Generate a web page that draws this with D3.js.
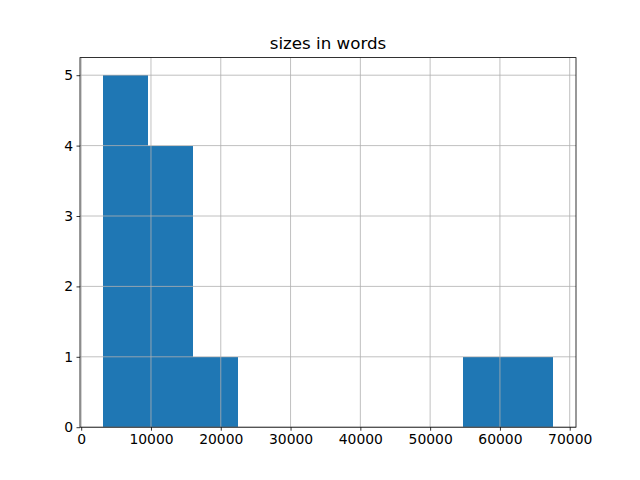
<!DOCTYPE html>
<html>
<head>
<meta charset="utf-8">
<script src="https://cdn.jsdelivr.net/npm/d3@7"></script>
<style>
  body { margin: 0; background: #fff; }
  text { font-family: "DejaVu Sans", sans-serif; }
</style>
</head>
<body>
<svg id="hist" width="640" height="480"></svg>
<script>
// histogram bins (10 bins)
const binEdges = [3060, 9521, 15982, 22443, 28904, 35365, 41826, 48287, 54748, 61209, 67670];
const binCounts = [5, 4, 1, 0, 0, 0, 0, 0, 1, 1];
const xTicks = [0, 10000, 20000, 30000, 40000, 50000, 60000, 70000];
const yTicks = [0, 1, 2, 3, 4, 5];
const title = "sizes in words";

const margin = { top: 57.6, right: 64, bottom: 52.8, left: 80 };
const width = 640 - margin.left - margin.right;
const height = 480 - margin.top - margin.bottom;

const svg = d3.select("#hist");
const g = svg.append("g").attr("transform", `translate(${margin.left},${margin.top})`);

const lo = binEdges[0], hi = binEdges[binEdges.length - 1];
const pad = (hi - lo) * 0.05;
const x = d3.scaleLinear().domain([lo - pad, hi + pad]).range([0, width]);
const y = d3.scaleLinear().domain([0, d3.max(binCounts) * 1.05]).range([height, 0]);

const bins = binCounts.map((c, i) => ({ x0: binEdges[i], x1: binEdges[i + 1], count: c }));

// bars
g.selectAll("rect.bar")
  .data(bins.filter(d => d.count > 0))
  .enter()
  .append("rect")
  .attr("class", "bar")
  .attr("x", d => x(d.x0))
  .attr("width", d => x(d.x1) - x(d.x0))
  .attr("y", d => y(d.count))
  .attr("height", d => y(0) - y(d.count))
  .attr("shape-rendering", "crispEdges")
  .attr("fill", "#1f77b4");

// grid on top of the bars, like matplotlib
const grid = g.append("g").attr("stroke", "#b0b0b0").attr("stroke-width", 0.8);
grid.selectAll("line.vx")
  .data(xTicks)
  .enter()
  .append("line")
  .attr("x1", d => x(d)).attr("x2", d => x(d))
  .attr("y1", 0).attr("y2", height);
grid.selectAll("line.hy")
  .data(yTicks)
  .enter()
  .append("line")
  .attr("x1", 0).attr("x2", width)
  .attr("y1", d => y(d)).attr("y2", d => y(d));

// axes
const xAxis = g.append("g")
  .attr("transform", `translate(0,${height})`)
  .call(d3.axisBottom(x).tickValues(xTicks).tickFormat(d3.format("d")).tickSize(3.5).tickPadding(3.5));
const yAxis = g.append("g")
  .call(d3.axisLeft(y).tickValues(yTicks).tickFormat(d3.format("d")).tickSize(3.5).tickPadding(3.5));

[xAxis, yAxis].forEach(a => {
  a.select(".domain").remove();
  a.selectAll("line").attr("stroke", "#000").attr("stroke-width", 0.8);
  a.selectAll("text").attr("fill", "#000").style("font-size", "13.9px").style("font-family", "DejaVu Sans");
});

// spines
g.append("rect")
  .attr("x", 0).attr("y", 0)
  .attr("width", width).attr("height", height)
  .attr("fill", "none")
  .attr("stroke", "#000")
  .attr("stroke-width", 0.8);

// title
svg.append("text")
  .attr("x", margin.left + width / 2)
  .attr("y", margin.top - 9)
  .attr("text-anchor", "middle")
  .style("font-size", "16.7px")
  .text(title);
</script>
</body>
</html>
